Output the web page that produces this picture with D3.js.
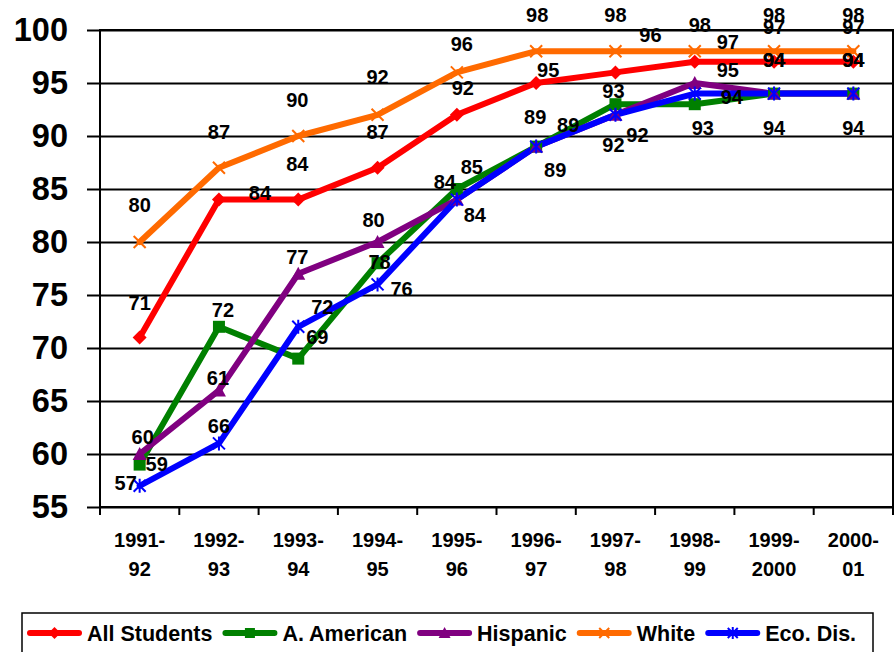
<!DOCTYPE html>
<html>
<head>
<meta charset="utf-8">
<script src="https://cdn.jsdelivr.net/npm/d3@7"></script>
<style>
  html, body { margin: 0; padding: 0; background: #fff; }
  svg { display: block; font-family: "Liberation Sans", Arial, sans-serif; font-weight: bold; }
</style>
</head>
<body>
<svg id="chart" width="895" height="652"></svg>
<script>
// School years on the category axis
const categories = ["1991-92", "1992-93", "1993-94", "1994-95", "1995-96",
                    "1996-97", "1997-98", "1998-99", "1999-2000", "2000-01"];

// Percent passing, one array per student group
const allStudents = [71, 84, 84, 87, 92, 95, 96, 97, 97, 97];
const aAmerican   = [59, 72, 69, 78, 85, 89, 93, 93, 94, 94];
const hispanic    = [60, 66, 77, 80, 84, 89, 92, 95, 94, 94];
const white       = [80, 87, 90, 92, 96, 98, 98, 98, 98, 98];
const ecoDis      = [57, 61, 72, 76, 84, 89, 92, 94, 94, 94];

const seriesNames = ["All Students", "A. American", "Hispanic", "White", "Eco. Dis."];
const yTickValues = [55, 60, 65, 70, 75, 80, 85, 90, 95, 100];

// Styling and label placement (pixel nudges of each value label from its point)
const seriesStyle = [
  { name: seriesNames[0], values: allStudents, color: "#ff0000", marker: "diamond",
    offsets: [[0,-35],[41,-7],[-1,-36],[0,-36],[6,-27],[12,-13],[35,-38],[33,-20],[0,-35],[0,-35]] },
  { name: seriesNames[1], values: aAmerican, color: "#008000", marker: "square",
    offsets: [[17,-1],[4,-17],[19,-22],[2,-1],[15,-22],[32,-22],[-2,-13],[8,24],[0,34],[0,34]] },
  { name: seriesNames[2], values: hispanic, color: "#800080", marker: "triangle",
    offsets: [[3,-17],[0,35],[-1,-17],[-4,-22],[-12,-18],[-1,-30],[22,20],[33,-13],[0,-34],[0,-34]] },
  { name: seriesNames[3], values: white, color: "#ff6a00", marker: "x",
    offsets: [[0,-37],[0,-36],[-1,-36],[0,-38],[5,-29],[1,-36],[0,-36],[5,-26],[0,-36],[0,-36]] },
  { name: seriesNames[4], values: ecoDis, color: "#0000ff", marker: "star",
    offsets: [[-14,-3],[-1,-66],[24,-20],[24,4],[18,15],[19,23],[-2,30],[37,3],[0,-34],[0,-34]] }
];

const plot = { left: 100, right: 893, top: 30, bottom: 507 };
const svg = d3.select("#chart");

const x = d3.scaleBand().domain(categories).range([plot.left, plot.right]).padding(0);
const y = d3.scaleLinear().domain([55, 100]).range([plot.bottom, plot.top]);
const cx = c => x(c) + x.bandwidth() / 2;

// Horizontal gridlines plus left axis with labels
const yAxis = d3.axisLeft(y).tickValues(yTickValues).tickFormat(d => d)
  .tickSizeInner(-(plot.right - plot.left)).tickSizeOuter(0).tickPadding(32);
const gy = svg.append("g").attr("transform", `translate(${plot.left},0)`).call(yAxis);
gy.select(".domain").remove();
gy.selectAll(".tick line").attr("x1", -13).attr("stroke", "#000").attr("stroke-width", 2);
gy.selectAll(".tick text").attr("font-size", 32.5).attr("font-weight", "bold")
  .attr("fill", "#000").attr("font-family", "Liberation Sans, Arial, sans-serif");

// Plot frame
svg.append("rect")
  .attr("x", plot.left).attr("y", plot.top)
  .attr("width", plot.right - plot.left).attr("height", plot.bottom - plot.top)
  .attr("fill", "none").attr("stroke", "#000").attr("stroke-width", 2);

// Category axis: ticks at band boundaries, two-line labels
const bounds = categories.map(c => x(c)).concat([plot.right]);
svg.append("g").selectAll("line").data(bounds).join("line")
  .attr("x1", d => d).attr("x2", d => d)
  .attr("y1", plot.bottom).attr("y2", plot.bottom + 8)
  .attr("stroke", "#000").attr("stroke-width", 2);

const xl = svg.append("g").selectAll("text").data(categories).join("text")
  .attr("x", d => cx(d)).attr("text-anchor", "middle")
  .attr("font-size", 20).attr("fill", "#000");
xl.append("tspan").attr("x", d => cx(d)).attr("y", 547).text(d => d.split("-")[0] + "-");
xl.append("tspan").attr("x", d => cx(d)).attr("y", 576).text(d => d.split("-")[1]);

// Marker painter
function drawMarker(g, type, color, px, py, s) {
  const h = s / 2;
  if (type === "diamond") {
    g.append("path").attr("d", `M${px},${py-h-1}L${px+h+1},${py}L${px},${py+h+1}L${px-h-1},${py}Z`)
      .attr("fill", color);
  } else if (type === "square") {
    g.append("rect").attr("x", px - h).attr("y", py - h).attr("width", s).attr("height", s)
      .attr("fill", color);
  } else if (type === "triangle") {
    g.append("path").attr("d", `M${px},${py-h-1}L${px+h+1},${py+h}L${px-h-1},${py+h}Z`)
      .attr("fill", color);
  } else if (type === "x") {
    g.append("path").attr("d", `M${px-h},${py-h}L${px+h},${py+h}M${px-h},${py+h}L${px+h},${py-h}`)
      .attr("stroke", color).attr("stroke-width", 2).attr("fill", "none");
  } else if (type === "star") {
    g.append("path").attr("d",
      `M${px-h},${py-h}L${px+h},${py+h}M${px-h},${py+h}L${px+h},${py-h}M${px},${py-h-1}L${px},${py+h+1}`)
      .attr("stroke", color).attr("stroke-width", 2).attr("fill", "none");
  }
}

const line = d3.line().x((d, i) => cx(categories[i])).y(d => y(d));

// Lines first, then markers, then value labels
const linesG = svg.append("g");
seriesStyle.forEach(s => {
  linesG.append("path").datum(s.values).attr("d", line)
    .attr("fill", "none").attr("stroke", s.color).attr("stroke-width", 6)
    .attr("stroke-linejoin", "round").attr("stroke-linecap", "round");
});
const markG = svg.append("g");
seriesStyle.forEach(s => {
  s.values.forEach((v, i) => drawMarker(markG, s.marker, s.color, cx(categories[i]), y(v), 12));
});
const labG = svg.append("g");
seriesStyle.forEach(s => {
  labG.selectAll(null).data(s.values).join("text")
    .attr("x", (v, i) => cx(categories[i]) + s.offsets[i][0])
    .attr("y", (v, i) => y(v) + s.offsets[i][1])
    .attr("dy", "0.36em").attr("text-anchor", "middle")
    .attr("font-size", 20).attr("fill", "#000")
    .text(v => v);
});

// Legend
const legend = svg.append("g");
legend.append("rect").attr("x", 22).attr("y", 613).attr("width", 851).attr("height", 60)
  .attr("fill", "#fff").attr("stroke", "#000").attr("stroke-width", 1.5);
let lx = 27;
seriesStyle.forEach(s => {
  const ly = 633;
  legend.append("line").attr("x1", lx + 3).attr("x2", lx + 52).attr("y1", ly).attr("y2", ly)
    .attr("stroke", s.color).attr("stroke-width", 6).attr("stroke-linecap", "round");
  drawMarker(legend, s.marker, s.color, lx + 27.5, ly, 10);
  const t = legend.append("text").attr("x", lx + 60).attr("y", ly).attr("dy", "0.36em")
    .attr("font-size", 21.5).attr("fill", "#000").text(s.name);
  lx += 60 + t.node().getComputedTextLength() + 10;
});
</script>
</body>
</html>
